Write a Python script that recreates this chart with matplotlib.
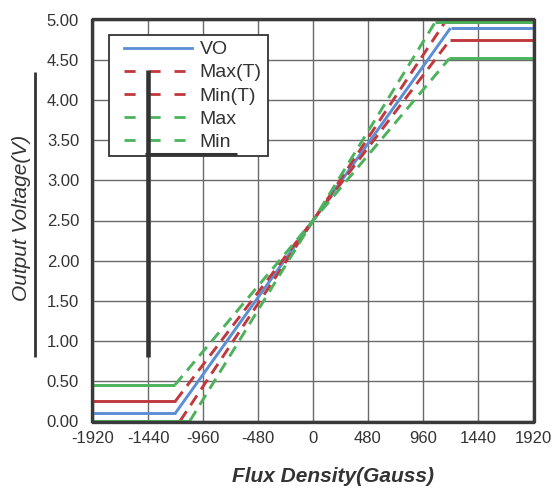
import matplotlib
matplotlib.use("Agg")
import matplotlib.pyplot as plt
from matplotlib.lines import Line2D
from matplotlib.legend_handler import HandlerLine2D
from matplotlib.ticker import FormatStrFormatter

plt.rcParams['font.family'] = ['Liberation Sans', 'DejaVu Sans']
plt.rcParams['axes.unicode_minus'] = False

W, H = 556, 491

# series breakpoints (Gauss, Volts)
vo_x = [-1920, -1200, 1200, 1920]
vo_y = [0.10, 0.10, 4.90, 4.90]
maxt_x = [-1920, -1160, 1150, 1920]
maxt_y = [0.00, 0.00, 4.97, 4.97]
mint_x = [-1920, -1200, 1195, 1920]
mint_y = [0.25, 0.25, 4.75, 4.75]
max_x = [-1920, -1075, 1065, 1920]
max_y = [0.00, 0.00, 4.97, 4.97]
min_x = [-1920, -1205, 1190, 1920]
min_y = [0.45, 0.45, 4.52, 4.52]

x_ticks = [-1920, -1440, -960, -480, 0, 480, 960, 1440, 1920]
y_ticks = [0.0, 0.5, 1.0, 1.5, 2.0, 2.5, 3.0, 3.5, 4.0, 4.5, 5.0]

BLUE = '#5b8ed4'
RED = '#c0393e'
GREEN = '#4cb35c'
DARK = '#333333'

series = [
    ('VO', vo_x, vo_y, BLUE, '-'),
    ('Max(T)', maxt_x, maxt_y, RED, '--'),
    ('Min(T)', mint_x, mint_y, RED, '--'),
    ('Max', max_x, max_y, GREEN, '--'),
    ('Min', min_x, min_y, GREEN, '--'),
]

fig = plt.figure(figsize=(W / 100, H / 100), dpi=100)
ax = fig.add_axes([93 / W, 1 - 421 / H, 440 / W, 401 / H])

for label, xs, ys, color, ls in series:
    lw = 2.1
    # flat parts drawn solid, the sloped part in the series style
    ax.plot(xs[:2], ys[:2], '-', color=color, lw=lw, clip_on=False,
            solid_capstyle='butt')
    ax.plot(xs[1:3], ys[1:3], ls, color=color, lw=lw, clip_on=False,
            dashes=(4, 2.5) if ls == '--' else (None, None),
            solid_capstyle='butt')
    ax.plot(xs[2:], ys[2:], '-', color=color, lw=lw, clip_on=False,
            solid_capstyle='butt')

ax.set_xlim(-1920, 1920)
ax.set_ylim(0, 5)
ax.set_xticks(x_ticks)
ax.set_yticks(y_ticks)
ax.yaxis.set_major_formatter(FormatStrFormatter('%.2f'))
ax.tick_params(length=0, labelsize=12, labelcolor=DARK)
ax.tick_params(axis='x', pad=6)
ax.tick_params(axis='y', pad=9)
ax.grid(True, color='#6a6a6a', lw=1.0)
ax.set_axisbelow(True)
for sp in ax.spines.values():
    sp.set_linewidth(2.4)
    sp.set_color('#3a3a3a')
    sp.set_position(('outward', 1))

leg_handles = [Line2D([], [], color=c, lw=2.0, ls=ls,
                      dashes=(4, 5) if ls == '--' else (None, None))
               for _, _, _, c, ls in series]
leg = ax.legend(leg_handles, [s[0] for s in series], loc='upper left',
                bbox_to_anchor=(0.036, 0.9626), borderaxespad=0,
                fontsize=14, handlelength=3.96, handletextpad=0.42,
                labelspacing=0.28, borderpad=0.3, fancybox=False,
                framealpha=1, edgecolor=DARK,
                handler_map={Line2D: HandlerLine2D(xpad=0.46)})
leg.get_frame().set_linewidth(1.3)
for t in leg.get_texts():
    t.set_color(DARK)

fig.text(22 / W, 1 - 218 / H, 'Output Voltage(V)', rotation=90,
         ha='center', va='center', fontsize=15, style='italic', color=DARK)
fig.text(333 / W, 1 - 476 / H, 'Flux Density(Gauss)', ha='center',
         va='center', fontsize=15, style='italic', weight='bold', color=DARK)


def fig_line(x0, y0, x1, y1, lw):
    fig.add_artist(Line2D([x0 / W, x1 / W], [1 - y0 / H, 1 - y1 / H],
                          transform=fig.transFigure, color=DARK, lw=lw,
                          solid_capstyle='butt', zorder=10))


# stray marks that sit on the original picture
fig_line(35, 72, 35, 357, 2.0)
fig_line(148, 70, 148, 357, 3.3)
fig_line(145, 154, 237, 154, 2.2)

fig.savefig('out.png', dpi=100)
